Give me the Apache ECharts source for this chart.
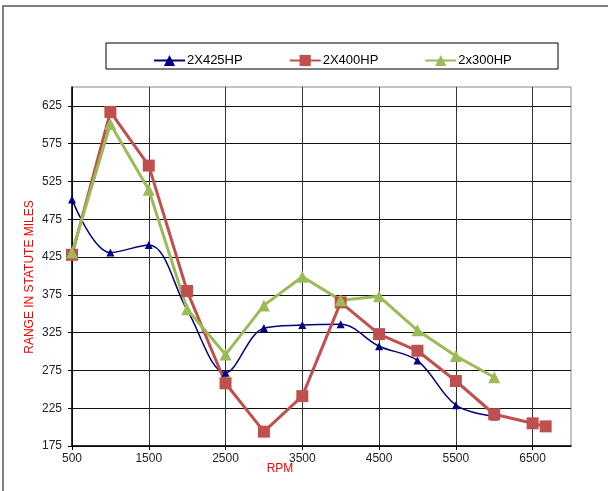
<!DOCTYPE html>
<html>
<head>
<meta charset="utf-8">
<script src="https://cdn.jsdelivr.net/npm/echarts@6/dist/echarts.min.js"></script>
<style>
html,body{margin:0;padding:0;background:#fff;}
#c{width:608px;height:491px;}
</style>
</head>
<body>
<div id="c"></div>
<script>
var seriesNames = ['2X425HP', '2X400HP', '2x300HP'];
var rpm425 = [500, 1000, 1500, 2000, 2500, 3000, 3500, 4000, 4500, 5000, 5500, 6000];
var range425 = [501, 431, 441, 355, 272, 331, 335, 336, 307, 288, 229, 214];
var rpm400 = [500, 1000, 1500, 2000, 2500, 3000, 3500, 4000, 4500, 5000, 5500, 6000, 6500, 6670];
var range400 = [428, 617, 546, 380, 258, 194, 241, 365, 323, 301, 261, 217, 205, 201];
var rpm300 = [500, 1000, 1500, 2000, 2500, 3000, 3500, 4000, 4500, 5000, 5500, 6000];
var range300 = [431, 601, 514, 356, 296, 361, 399, 368, 373, 328, 294, 266];
var xAxisTitle = 'RPM';
var yAxisTitle = 'RANGE IN STATUTE MILES';

function pairs(xs, ys) { return xs.map(function (x, i) { return [x, ys[i]]; }); }

var chart = echarts.init(document.getElementById('c'), null, { renderer: 'canvas' });
var font = 'Liberation Sans, Arial, sans-serif';
chart.setOption({
  animation: false,
  backgroundColor: '#fff',
  textStyle: { fontFamily: font },
  graphic: [
    { type: 'rect', shape: { x: 3, y: 6, width: 700, height: 600 }, style: { fill: 'none', stroke: '#555', lineWidth: 1.5 }, z: 0 },
    { type: 'rect', shape: { x: 106, y: 43, width: 452, height: 26 }, style: { fill: 'none', stroke: '#000', lineWidth: 1 }, z: 1 },
    { type: 'text', x: 280, y: 469, style: { text: xAxisTitle, fill: '#ff0000', font: '12px ' + font, textAlign: 'center', textVerticalAlign: 'middle' } },
    { type: 'text', x: 30, y: 277, rotation: Math.PI / 2, style: { text: yAxisTitle, fill: '#ff0000', font: '12px ' + font, textAlign: 'center', textVerticalAlign: 'middle' } }
  ],
  legend: {
    left: 148,
    top: 49,
    itemWidth: 31,
    itemHeight: 14,
    itemGap: 46,
    textStyle: { fontSize: 13, color: '#000', fontFamily: font, padding: [0, 0, 0, -3] },
    data: seriesNames
  },
  grid: {
    left: 72, top: 87, right: 37, bottom: 45,
    show: true, borderColor: '#888', borderWidth: 1
  },
  xAxis: {
    type: 'value',
    min: 500, max: 7000, interval: 1000,
    axisLine: { show: true, lineStyle: { color: '#000', width: 1.5 } },
    axisTick: { show: true, length: 4, lineStyle: { color: '#000' } },
    axisLabel: { color: '#222', fontSize: 12, margin: 7, showMaxLabel: false, fontFamily: font, formatter: function (v) { return String(v); } },
    splitLine: { show: true, showMaxLine: false, lineStyle: { color: '#333', width: 1 } }
  },
  yAxis: {
    type: 'value',
    min: 175, max: 650, interval: 50,
    axisLine: { show: true, lineStyle: { color: '#000', width: 1.5 } },
    axisTick: { show: true, length: 4, lineStyle: { color: '#000' } },
    axisLabel: { color: '#222', fontSize: 12, margin: 10, showMaxLabel: false, fontFamily: font, formatter: function (v) { return String(v); } },
    splitLine: { show: true, showMaxLine: false, lineStyle: { color: '#111', width: 1 } }
  },
  series: [
    {
      name: seriesNames[0], type: 'line', smooth: 0.35,
      data: pairs(rpm425, range425),
      symbol: 'triangle', symbolSize: 8,
      itemStyle: { color: '#000080' },
      lineStyle: { color: '#000080', width: 1.5 }
    },
    {
      name: seriesNames[1], type: 'line',
      data: pairs(rpm400, range400),
      symbol: 'rect', symbolSize: 12,
      itemStyle: { color: '#C0504D' },
      lineStyle: { color: '#C0504D', width: 3 }
    },
    {
      name: seriesNames[2], type: 'line',
      data: pairs(rpm300, range300),
      symbol: 'triangle', symbolSize: 12,
      itemStyle: { color: '#9BBB59' },
      lineStyle: { color: '#9BBB59', width: 3 }
    }
  ]
});
</script>
</body>
</html>
